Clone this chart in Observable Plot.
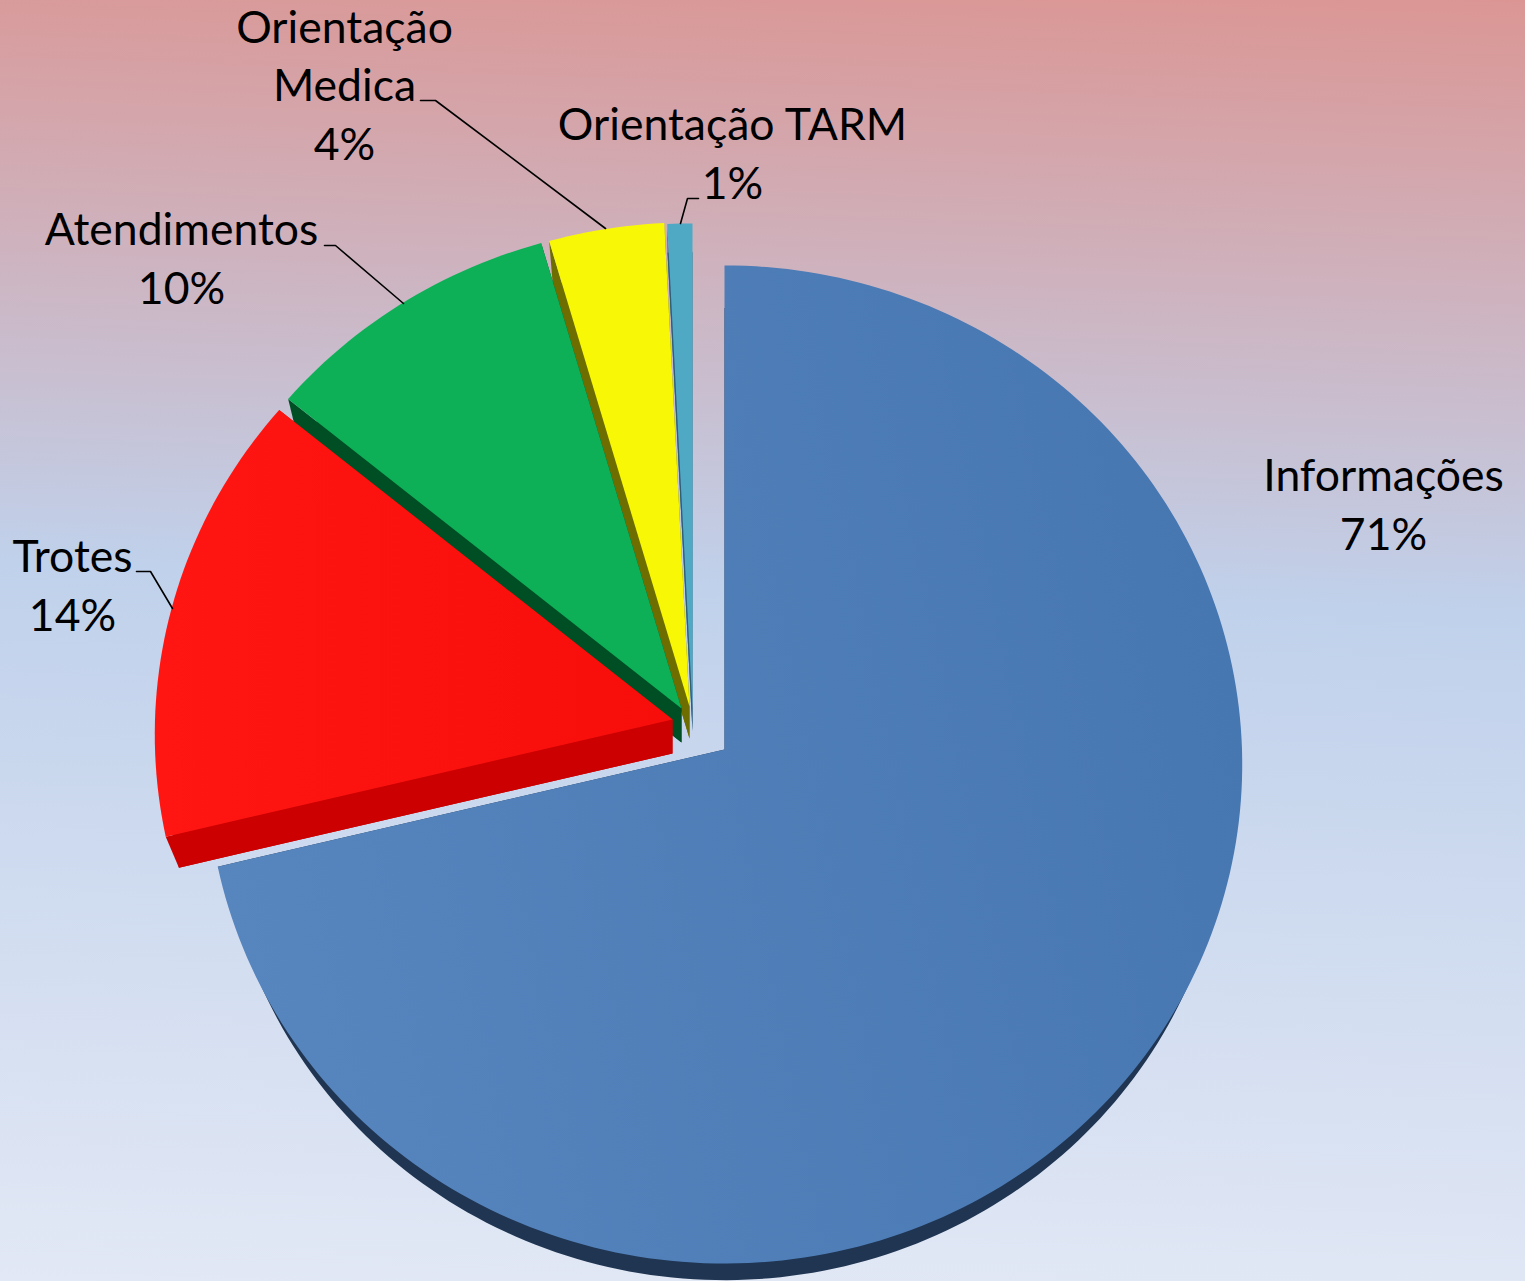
<!DOCTYPE html>
<html><head><meta charset="utf-8">
<script src="https://cdn.jsdelivr.net/npm/d3@7"></script>
<script src="https://cdn.jsdelivr.net/npm/@observablehq/plot@0.6"></script>
<style>html,body{margin:0;padding:0;background:#E2E8F5}svg{display:block}</style>
</head><body><div id="chart"></div>
<script>
// Data (shares; labels as printed)
const categories = ["Informações","Trotes","Atendimentos","Orientação\nMedica","Orientação TARM"];
const shares = [71.25,14.65,9.6,3.7,0.8];
const printed = ["71%","14%","10%","4%","1%"];

// Style and layout
const topColors = ["url(#blueGrad)","url(#redGrad)","#0EB057","#F8F806","#4FA9C5"];
const sideColors = ["#1F3552","#CC0000","#004F24","#6E6E00","#2E5F78"];
const apexes = [[724,749],[672,719],[681,708],[689,706],[692,707]];
const depths = [30,34,34,32,24];
const shrink = [0.974,0.974,0.974,0.974,0.99];
const labelAt = [[1383,501],[72,582],[181,255],[344,82],[732,150]];
const leaders = [null,
  [[172,608],[150,571],[136,571]],
  [[403,303],[335,245],[324,245]],
  [[605,228],[435,100],[420,100]],
  [[680,223],[687,198],[698,198]]];

// tilted-disc projection
const A=517.5,B=498.6,k=0.03;
function proj(t){const X=Math.sin(t),Y=Math.cos(t),s=1/(1+k*Y);return [A*X*s,-B*Y*s];}

const total=d3.sum(shares);
let cum=0;
const slices=shares.map((v,i)=>{
  const a0=cum/total*2*Math.PI; cum+=v; const a1=cum/total*2*Math.PI;
  const n=Math.max(4,Math.ceil(v*3));
  const arc=d3.range(n+1).map(j=>proj(a0+(a1-a0)*j/n));
  const [ax,ay]=apexes[i];
  const up=p=>({x:ax+p[0],y:ay+p[1]});
  const down=p=>({x:ax+p[0]*shrink[i],y:ay+p[1]*shrink[i]+depths[i]});
  const top=[up([0,0]),...arc.map(up)];
  const bottom=[down([0,0]),...arc.map(down)];
  const e1=[up([0,0]),up(arc[0]),down(arc[0]),down([0,0])];
  const e2=[up([0,0]),up(arc[n]),down(arc[n]),down([0,0])];
  return {top,sides:[...bottom.map(d=>({...d,z:"b"})),...e1.map(d=>({...d,z:"e1"})),...e2.map(d=>({...d,z:"e2"}))]};
});

const order=[0,4,3,2,1];
const marks=[];
for(const i of order){
  marks.push(Plot.line(slices[i].sides,{x:"x",y:"y",z:"z",fill:sideColors[i],stroke:"none"}));
  marks.push(Plot.line(slices[i].top,{x:"x",y:"y",fill:topColors[i],stroke:"none"}));
}
leaders.forEach(l=>{ if(l) marks.push(Plot.line(l.map(p=>({x:p[0],y:p[1]})),{x:"x",y:"y",stroke:"#000",strokeWidth:1.6,fill:"none"})); });
marks.push(Plot.text(categories.map((c,i)=>({x:labelAt[i][0],y:labelAt[i][1],t:c+"\n"+printed[i]})),{
  x:"x",y:"y",text:"t",fontSize:44.5,lineHeight:1.32,lineAnchor:"middle",textAnchor:"middle",fill:"#000",stroke:"none",fontFamily:"Lato, sans-serif"}));

const svg=Plot.plot({
  width:1525,height:1281,margin:0,
  x:{domain:[0,1525],range:[0,1525],axis:null},
  y:{domain:[0,1281],range:[0,1281],axis:null},
  style:{background:"linear-gradient(182deg,#DB9694 0%,#C0D1EB 46%,#E2E8F5 100%)",overflow:"hidden"},
  marks
});
const ns="http://www.w3.org/2000/svg";
const defs=document.createElementNS(ns,"defs");
defs.innerHTML=`<linearGradient id="blueGrad" gradientUnits="userSpaceOnUse" x1="218" y1="900" x2="1242" y2="700"><stop offset="0" stop-color="#5785BE"/><stop offset="1" stop-color="#4777B1"/></linearGradient>
<linearGradient id="redGrad" gradientUnits="userSpaceOnUse" x1="155" y1="650" x2="672" y2="650"><stop offset="0" stop-color="#FF1612"/><stop offset="1" stop-color="#F70E0B"/></linearGradient>`;
svg.insertBefore(defs,svg.firstChild);
document.getElementById("chart").appendChild(svg);
</script></body></html>
